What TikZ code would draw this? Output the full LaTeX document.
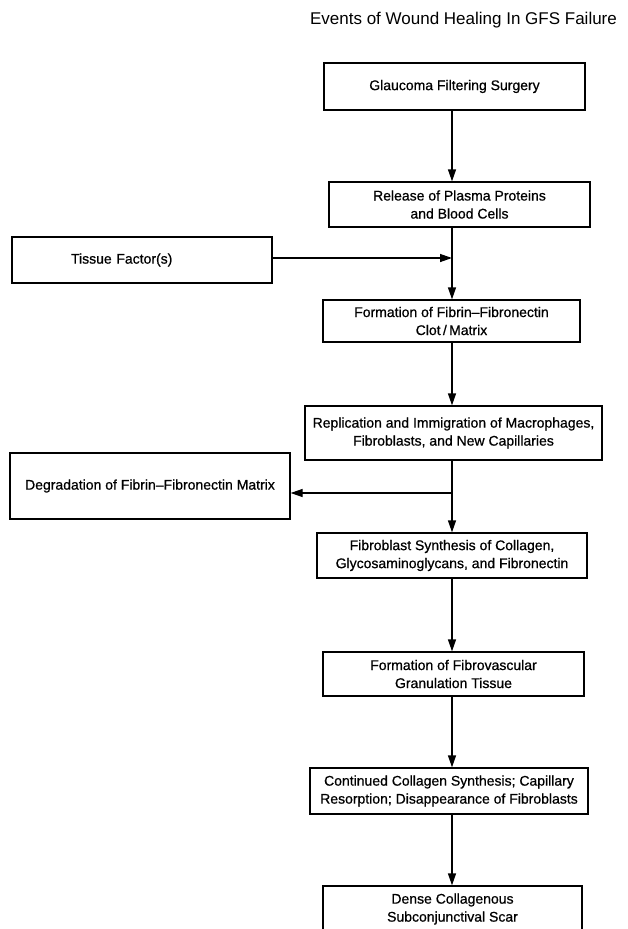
\documentclass[tikz,border=0pt]{standalone}
\usepackage{fontspec}
\setmainfont{Liberation Sans}
\newfontfamily\scanfont{Liberation Sans}[FakeBold=0.7,Ligatures=TeX]
\usetikzlibrary{arrows.meta}

\begin{document}
\begin{tikzpicture}[x=1pt,y=-1pt,
  box/.style={draw,line width=1.3pt,align=center,inner sep=0pt,font=\scanfont\fontsize{14}{18}\selectfont},
  arr/.style={line width=1.3pt,-{Triangle[length=12pt,width=8pt]}}]
\useasboundingbox (0,0) rectangle (628,929);
\node[font=\fontsize{17}{20}\selectfont] (title) at (463.5,20) {Events of Wound Healing In GFS Failure};
% main column
\node[box,minimum width=261pt,minimum height=47pt] (surgery) at (454.5,86.5) {Glaucoma Filtering Surgery};
\node[box,minimum width=261pt,minimum height=45pt] (release) at (459.5,204.5) {Release of Plasma Proteins\\and Blood Cells};
\node[box,minimum width=257pt,minimum height=42pt] (clot) at (451.5,321) {Formation of Fibrin--Fibronectin\\Clot\,/\,Matrix};
\node[box,minimum width=297pt,minimum height=54pt] (replication) at (453.5,433) {Replication and Immigration of Macrophages,\\Fibroblasts, and New Capillaries};
\node[box,minimum width=270pt,minimum height=45pt] (synthesis) at (452,555.5) {Fibroblast Synthesis of Collagen,\\Glycosaminoglycans, and Fibronectin};
\node[box,minimum width=261pt,minimum height=44pt] (granulation) at (453.5,674) {Formation of Fibrovascular\\Granulation Tissue};
\node[box,minimum width=278pt,minimum height=46pt] (resorption) at (449,791) {Continued Collagen Synthesis; Capillary\\Resorption; Disappearance of Fibroblasts};
\node[box,minimum width=259pt,minimum height=46pt] (scar) at (452.5,909) {Dense Collagenous\\Subconjunctival Scar};
% side boxes
\node[box,align=left,text width=142pt,inner xsep=59pt,minimum height=46pt] (tissue) at (142,260) {Tissue Factor(s)};
\node[box,minimum width=280pt,minimum height=66pt] (degradation) at (150,486) {Degradation of Fibrin--Fibronectin Matrix};
% connectors
\coordinate (spine) at (452,0);
\coordinate (tjoin) at (452,258);
\coordinate (djoin) at (452,493);
\draw[arr] (surgery.south -| spine) -- (release.north -| spine);
\draw[line width=1.3pt] (release.south -| spine) -- (tjoin);
\draw[arr] (tjoin) -- (clot.north -| spine);
\draw[arr] (tissue.east |- tjoin) -- (tjoin);
\draw[arr] (clot.south -| spine) -- (replication.north -| spine);
\draw[line width=1.3pt] (replication.south -| spine) -- (djoin);
\draw[arr] (djoin) -- (synthesis.north -| spine);
\draw[arr] (djoin) -- (degradation.east |- djoin);
\draw[arr] (synthesis.south -| spine) -- (granulation.north -| spine);
\draw[arr] (granulation.south -| spine) -- (resorption.north -| spine);
\draw[arr] (resorption.south -| spine) -- (scar.north -| spine);
\end{tikzpicture}
\end{document}
